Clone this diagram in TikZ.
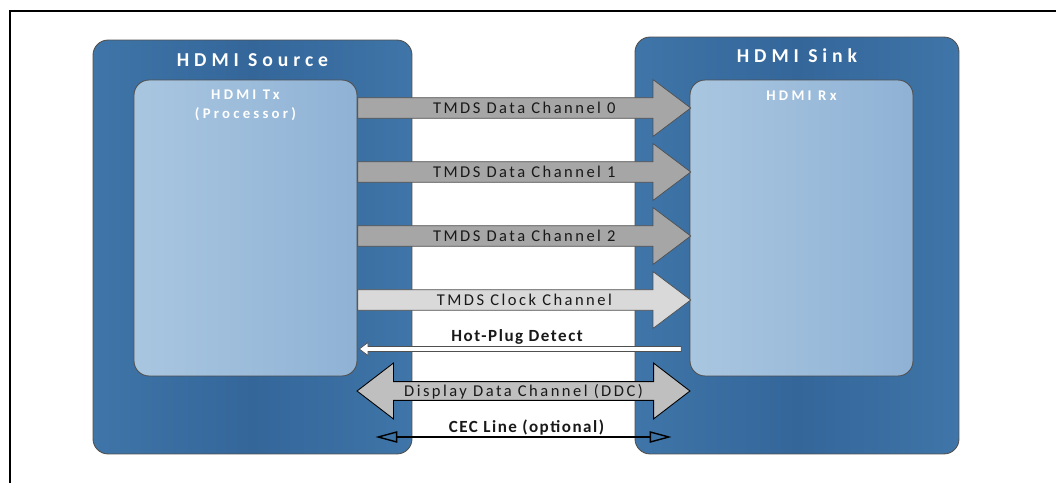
\documentclass[tikz,border=0pt]{standalone}
\usepackage{fontspec}
\setmainfont{Carlito}
\newfontfamily\titlefont[LetterSpace=25]{Carlito}
\newfontfamily\chipfont[LetterSpace=22]{Carlito}
\newfontfamily\chanfont[LetterSpace=15]{Carlito}
\newfontfamily\sigfont[LetterSpace=9]{Carlito}
\usetikzlibrary{shapes.arrows,arrows.meta,calc,positioning}
\definecolor{boxblue}{HTML}{3F75A8}
\definecolor{boxdark}{HTML}{34669A}
\definecolor{chipl}{HTML}{A9C6E0}
\definecolor{chipd}{HTML}{8FB2D5}
\definecolor{changray}{HTML}{A6A6A6}
\definecolor{clkgray}{HTML}{D9D9D9}
\definecolor{ddcgray}{HTML}{BFBFBF}
\definecolor{edge}{HTML}{505050}

\begin{document}
\begin{tikzpicture}[x=0.02cm,y=-0.02cm,
    outerbox/.style={draw=edge,line width=0.5pt,rounded corners=0.3cm,
        left color=boxblue,right color=boxblue,middle color=boxdark,inner sep=0pt},
    chipbox/.style={draw=edge,line width=0.5pt,rounded corners=0.3cm,
        left color=chipl,right color=chipd,inner sep=0pt,
        minimum width=4.46cm,minimum height=5.92cm},
    boxtitle/.style={text=white,font=\titlefont\bfseries\fontsize{11.2}{13}\selectfont,inner sep=0pt},
    chiptitle/.style={text=white,align=center,inner sep=0pt,
        font=\chipfont\bfseries\fontsize{8.4}{10.8}\selectfont},
    bigarrow/.style={single arrow,draw=edge,line width=0.4pt,anchor=tail,
        minimum height=6.66cm,inner xsep=0pt,inner ysep=0.2cm,text height=0pt,text depth=0pt,
        single arrow head extend=0.36cm,single arrow tip angle=74},
    chanlbl/.style={text=black!90,inner sep=0pt,text height=0.64em,text depth=0pt,
        font=\chanfont\fontsize{9.4}{11}\selectfont},
    siglbl/.style={text=black!90,inner sep=0pt,anchor=south,text depth=0pt,
        font=\sigfont\bfseries\fontsize{9.7}{11}\selectfont}]

    \useasboundingbox (0,0) rectangle (1056,483);
    \draw [line width=0.04cm] (10,490) |- (1060,11);

    \node [outerbox,minimum width=6.38cm,minimum height=8.28cm] (src) at (252.5,247) {};
    \node [outerbox,minimum width=6.48cm,minimum height=8.34cm] (snk) at (797,245.5) {};
    \node [boxtitle,below=0.27cm of src.north] (srctitle) {HDMI Source};
    \node [boxtitle,below=0.23cm of snk.north] (snktitle) {HDMI Sink};

    \node [chipbox] (tx) at (245.5,228) {};
    \node [chipbox] (rx) at (801.5,228) {};
    \node [chiptitle,below=0.2cm of tx.north] (txtitle) {HDMI Tx\\(Processor)};
    \node [chiptitle,below=0.22cm of rx.north] (rxtitle) {HDMI Rx};

    \node [bigarrow,fill=changray] (ch0) at (tx.east |- 0,108) {};
    \node [bigarrow,fill=changray] (ch1) at (tx.east |- 0,172) {};
    \node [bigarrow,fill=changray] (ch2) at (tx.east |- 0,236) {};
    \node [bigarrow,fill=clkgray] (clk) at (tx.east |- 0,300) {};
    \node [chanlbl] at ($(ch0.tail)!0.5!(ch0.tip)$) {TMDS Data Channel 0};
    \node [chanlbl] at ($(ch1.tail)!0.5!(ch1.tip)$) {TMDS Data Channel 1};
    \node [chanlbl] at ($(ch2.tail)!0.5!(ch2.tip)$) {TMDS Data Channel 2};
    \node [chanlbl] at ($(clk.tail)!0.5!(clk.tip)$) {TMDS Clock Channel};

    \coordinate (hpdR) at ($(rx.west |- 0,349)+(-8,0)$);
    \node [single arrow,draw=edge,line width=0.4pt,fill=white,anchor=tail,shape border rotate=180,
        minimum height=6.44cm,inner xsep=0pt,inner ysep=0.045cm,text height=0pt,text depth=0pt,
        single arrow head extend=0.08cm,single arrow tip angle=74] (hpd) at (hpdR) {};
    \node [siglbl] (hpdtxt) at ($($(hpd.tail)!0.5!(hpd.tip)$)+(-3,-7)$) {Hot-Plug Detect};

    \node [double arrow,draw=black,line width=0.5pt,fill=ddcgray,
        minimum height=6.66cm,inner xsep=0pt,inner ysep=0.18cm,text height=0pt,text depth=0pt,
        double arrow head extend=0.37cm,double arrow tip angle=75]
        (ddc) at ($(tx.east |- 0,391)!0.5!(rx.west |- 0,391)$) {};
    \node [chanlbl] at (ddc) {Display Data Channel (DDC)};

    \coordinate (cecL) at ($(tx.east |- 0,437)+(18,0)$);
    \coordinate (cecR) at ($(rx.west |- 0,437)+(-18,0)$);
    \draw [line width=0.8pt,{Triangle[open,length=12.5pt,width=6.5pt]}-{Triangle[open,length=12.5pt,width=6.5pt]}]
        (cecL) -- (cecR);
    \node [siglbl] (cectxt) at ($($(cecL)!0.5!(cecR)$)+(3,-4)$) {CEC Line (optional)};
\end{tikzpicture}
\end{document}
